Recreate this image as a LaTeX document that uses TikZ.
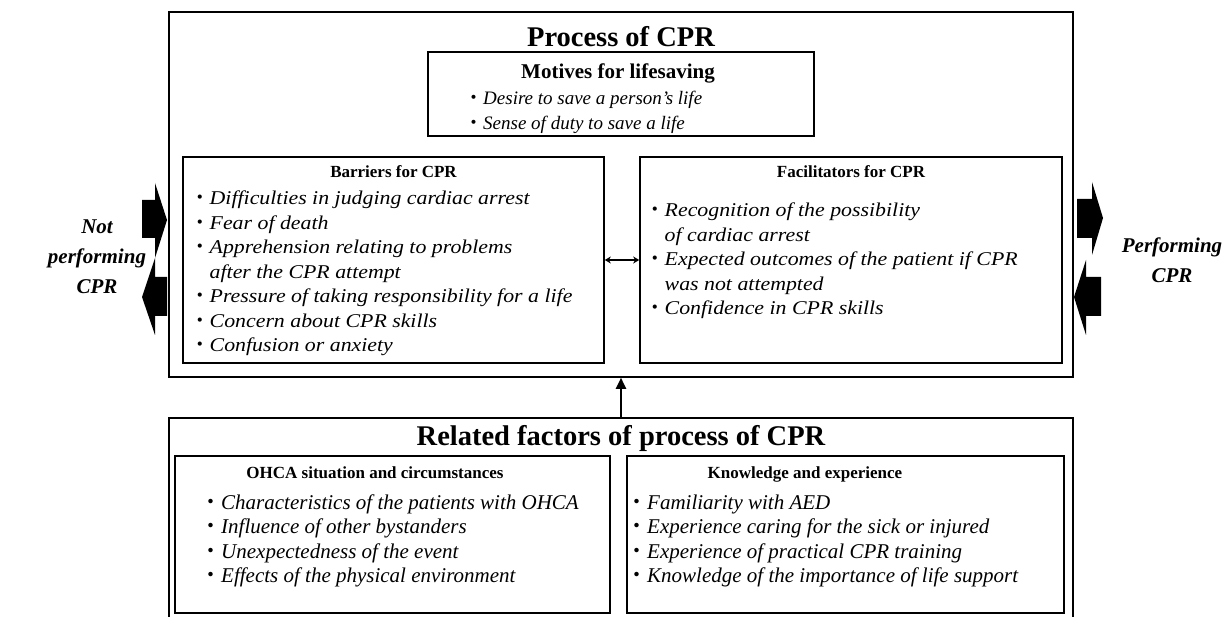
\documentclass[tikz,border=0pt]{standalone}
\usepackage{fontspec}
\setmainfont{Liberation Serif}
\newfontfamily\jpfont{Noto Sans CJK JP}
\newfontfamily\widefont[FakeStretch=1.12]{Liberation Serif}
\usetikzlibrary{positioning,arrows.meta}

\newcommand{\bul}{{\upshape\jpfont ・}}

\begin{document}
\begin{tikzpicture}[x=1pt,y=-1pt]
  \tikzset{Frame/.style = {draw, line width=1.6pt, inner sep=0pt},
           BigTitle/.style = {font=\bfseries\fontsize{28.5}{32}\selectfont, inner sep=0pt, anchor=base},
           BoxTitle/.style = {font=\bfseries\fontsize{17}{20}\selectfont, inner sep=0pt, anchor=base},
           Items/.style = {font=\itshape\fontsize{21}{24.5}\selectfont, align=left, inner sep=0pt, anchor=north west},
           WideItems/.style = {Items, font=\widefont\itshape\fontsize{19.5}{24.5}\selectfont},
           Outcome/.style = {font=\bfseries\itshape\fontsize{21}{30}\selectfont, align=center, inner sep=0pt}}
  \useasboundingbox (0,0) rectangle (1231,617);

  % process of CPR
  \node[Frame, minimum width=904, minimum height=365] (proc) at (621,194.5) {};
  \node[BigTitle] (procT) at (621,47) {Process of CPR};

  \node[Frame, minimum width=386, minimum height=84] (mot) at (621,94) {};
  \node[BoxTitle, font=\bfseries\fontsize{21}{24}\selectfont] (motT) at (618,79) {Motives for lifesaving};
  \node[Items, font=\itshape\fontsize{19}{24.5}\selectfont] (motI) at (464,87.5) {\strut\bul Desire to save a person's life\\
    \bul Sense of duty to save a life};

  \node[Frame, minimum width=421, minimum height=206] (bar) at (393.5,260) {};
  \node[BoxTitle] (barT) at (393.5,178) {Barriers for CPR};
  \node[WideItems] (barI) at (190,187.5) {\strut\bul Difficulties in judging cardiac arrest\\
    \bul Fear of death\\
    \bul Apprehension relating to problems\\
    \phantom{\bul}after the CPR attempt\\
    \bul Pressure of taking responsibility for a life\\
    \bul Concern about CPR skills\\
    \bul Confusion or anxiety};

  \node[Frame, minimum width=422, minimum height=206] (fac) at (851,260) {};
  \node[BoxTitle] (facT) at (851,178) {Facilitators for CPR};
  \node[WideItems] (facI) at (645,199.5) {\strut\bul Recognition of the possibility\\
    \phantom{\bul}of cardiac arrest\\
    \bul Expected outcomes of the patient if CPR\\
    \phantom{\bul}was not attempted\\
    \bul Confidence in CPR skills};

  \draw[line width=1.5pt, {Stealth[length=6pt,width=7pt]}-{Stealth[length=6pt,width=7pt]}] (bar) -- (fac);

  % related factors
  \coordinate (relTop) at (621,418);
  \draw[line width=1.6pt] (169,617) -- (169,418) -- (relTop) -- (1073,418) -- (1073,617);
  \node[BigTitle] (relT) at (621,445) {Related factors of process of CPR};

  \node[Frame, minimum width=435, minimum height=157] (ohca) at (392.5,534.5) {};
  \node[BoxTitle] (ohcaT) at (375,478) {OHCA situation and circumstances};
  \node[Items] (ohcaI) at (200,492) {\strut\bul Characteristics of the patients with OHCA\\
    \bul Influence of other bystanders\\
    \bul Unexpectedness of the event\\
    \bul Effects of the physical environment};

  \node[Frame, minimum width=437, minimum height=157] (know) at (845.5,534.5) {};
  \node[BoxTitle] (knowT) at (805,478) {Knowledge and experience};
  \node[Items] (knowI) at (626,492) {\strut\bul Familiarity with AED\\
    \bul Experience caring for the sick or injured\\
    \bul Experience of practical CPR training\\
    \bul Knowledge of the importance of life support};

  \draw[line width=2pt, -{Triangle[length=11pt,width=10pt]}] (relTop) -- (proc.south);

  % outcomes
  \node[Outcome] (notCPR) at (97,257) {Not\\performing\\CPR};
  \node[Outcome] (doCPR) at (1172,260) {Performing\\CPR};

  \fill (142,200) -- (155,200) -- (155,183) -- (167,220) -- (155,258) -- (155,238) -- (142,238) -- cycle;
  \fill (167,277) -- (155,277) -- (155,258) -- (142,297) -- (155,335) -- (155,316) -- (167,316) -- cycle;
  \fill (1077,199) -- (1092,199) -- (1092,182) -- (1103,218) -- (1092,255) -- (1092,238) -- (1077,238) -- cycle;
  \fill (1101,277) -- (1086,277) -- (1086,260) -- (1074,297) -- (1086,335) -- (1086,316) -- (1101,316) -- cycle;
\end{tikzpicture}
\end{document}
